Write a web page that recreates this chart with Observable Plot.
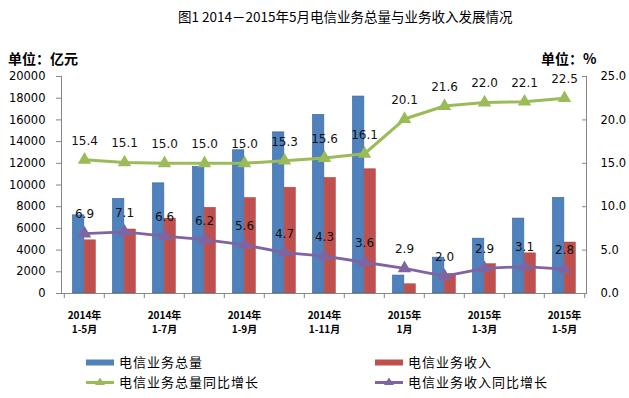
<!DOCTYPE html>
<html><head><meta charset="utf-8">
<script src="https://cdn.jsdelivr.net/npm/d3@7"></script>
<script src="https://cdn.jsdelivr.net/npm/@observablehq/plot@0.6"></script>
<style>
body{margin:0;background:#fff;}
#wrap{position:relative;width:629px;height:398px;overflow:hidden;font-family:"Noto Sans CJK SC",sans-serif;}
#chart{position:absolute;left:0;top:0;}
.abs{position:absolute;white-space:nowrap;color:#000;}
.leg{position:absolute;display:flex;align-items:center;font-size:13px;letter-spacing:1px;line-height:16px;}
.leg svg{margin-right:5px;}
</style></head>
<body><div id="wrap">
<div id="chart"></div>
<div class="abs" style="left:178px;top:6px;font-size:13.5px;">图1 2014－2015年5月电信业务总量与业务收入发展情况</div>
<div class="abs" style="left:8px;top:48px;font-size:14px;font-weight:bold;">单位：亿元</div>
<div class="abs" style="left:541px;top:48px;font-size:14px;font-weight:bold;">单位：%</div>
<div id="legend"></div>
</div>
<script>
const categories = ["2014年1-5月","2014年1-6月","2014年1-7月","2014年1-8月","2014年1-9月","2014年1-10月","2014年1-11月","2014年1-12月","2015年1月","2015年1-2月","2015年1-3月","2015年1-4月","2015年1-5月"];
const tickLabels = ["2014年\n1-5月","","2014年\n1-7月","","2014年\n1-9月","","2014年\n1-11月","","2015年\n1月","","2015年\n1-3月","","2015年\n1-5月"];
const volume = [7200, 8700, 10150, 11650, 13200, 14850, 16450, 18150, 1650, 3300, 5050, 6900, 8800];
const revenue = [4900, 5900, 6900, 7900, 8800, 9750, 10650, 11450, 850, 1800, 2700, 3700, 4700];
const volumeGrowth = [15.4, 15.1, 15.0, 15.0, 15.0, 15.3, 15.6, 16.1, 20.1, 21.6, 22.0, 22.1, 22.5];
const revenueGrowth = [6.9, 7.1, 6.6, 6.2, 5.6, 4.7, 4.3, 3.6, 2.9, 2.0, 2.9, 3.1, 2.8];
const leftTicks = [0,2000,4000,6000,8000,10000,12000,14000,16000,18000,20000];
const rightTicks = [0,5,10,15,20,25];
const seriesNames = ["电信业务总量","电信业务收入","电信业务总量同比增长","电信业务收入同比增长"];
const colors = {vol:"#4F81BD", rev:"#C0504D", volG:"#9BBB59", revG:"#8064A2"};

const pctScale = 20000 / 25; // right axis 0–25% mapped onto left 0–20000
const data = categories.map((c,i)=>({cat:c, vol:volume[i], rev:revenue[i], volG:volumeGrowth[i], revG:revenueGrowth[i], label:tickLabels[i]}));

const W = 629, H = 398, mL = 61, mR = 43, mT = 76, mB = 105;
const bw = (W - mL - mR) / categories.length;
const barW = 11.6;
const tickFont = "DejaVu Sans, sans-serif";

const chart = Plot.plot({
  width: W, height: H, marginTop: mT, marginBottom: mB, marginLeft: mL, marginRight: mR,
  style: {background: "transparent", fontFamily: tickFont},
  x: {type: "band", domain: categories, padding: 0, axis: null, label: null},
  y: {domain: [0, 20000], axis: null, label: null},
  marks: [
    Plot.barY(data, {x: "cat", y: "vol", fill: colors.vol, stroke: "#3A679E", strokeWidth: 0.7, insetLeft: bw/2 - barW, insetRight: bw/2}),
    Plot.barY(data, {x: "cat", y: "rev", fill: colors.rev, stroke: "#A8423F", strokeWidth: 0.5, insetLeft: bw/2, insetRight: bw/2 - barW}),
    Plot.ruleY([0], {stroke: "#868686"}),
    Plot.frame({anchor: "left", stroke: "#868686"}),
    Plot.frame({anchor: "right", stroke: "#868686"}),
    Plot.axisY({anchor: "left", label: null, ticks: leftTicks, tickFormat: d => String(d), tickSize: 5, tickPadding: 11, stroke: "#868686", fill: "#000", fontSize: 11.5, fontFamily: tickFont}),
    Plot.axisY({anchor: "right", label: null, ticks: rightTicks.map(v => v * pctScale), tickFormat: d => (d / pctScale).toFixed(1), tickSize: -5, tickPadding: 19, stroke: "#868686", fill: "#000", fontSize: 11.5, fontFamily: tickFont}),
    Plot.axisX({label: null, ticks: categories, tickSize: 5, tickFormat: () => "", dx: -bw/2, stroke: "#868686"}),
    Plot.axisX({label: null, ticks: categories.slice(-1), tickSize: 5, tickFormat: () => "", dx: bw/2, stroke: "#868686"}),
    Plot.axisX({label: null, ticks: categories, tickSize: 0, tickPadding: 16, tickFormat: d => tickLabels[categories.indexOf(d)], fontSize: 10, fontWeight: "bold", lineHeight: 1.4, fill: "#000", fontFamily: "Noto Sans CJK SC, sans-serif"}),
    Plot.line(data, {x: "cat", y: d => d.volG * pctScale, stroke: colors.volG, strokeWidth: 3}),
    Plot.dot(data, {x: "cat", y: d => d.volG * pctScale, symbol: "triangle", r: 5, fill: colors.volG, stroke: null}),
    Plot.line(data, {x: "cat", y: d => d.revG * pctScale, stroke: colors.revG, strokeWidth: 2.8}),
    Plot.dot(data, {x: "cat", y: d => d.revG * pctScale, symbol: "triangle", r: 5, fill: colors.revG, stroke: null}),
    Plot.text(data, {x: "cat", y: d => d.volG * pctScale, text: d => d.volG.toFixed(1), dy: -19, fontSize: 12, fill: "#111", fontFamily: tickFont}),
    Plot.text(data, {x: "cat", y: d => d.revG * pctScale, text: d => d.revG.toFixed(1), dy: -19, fontSize: 12, fill: "#111", fontFamily: tickFont})
  ]
});
document.getElementById("chart").appendChild(chart);

// legend
const legendItems = [
  {name: seriesNames[0], color: colors.vol, type: "bar", x: 86, y: 354},
  {name: seriesNames[1], color: colors.rev, type: "bar", x: 375, y: 354},
  {name: seriesNames[2], color: colors.volG, type: "line", x: 86, y: 374},
  {name: seriesNames[3], color: colors.revG, type: "line", x: 375, y: 374}
];
const leg = document.getElementById("legend");
for (const it of legendItems) {
  const div = document.createElement("div");
  div.className = "leg";
  div.style.left = it.x + "px";
  div.style.top = it.y + "px";
  const sw = it.type === "bar"
    ? `<svg width="28" height="16"><rect x="0" y="5.5" width="28" height="6" fill="${it.color}"/></svg>`
    : `<svg width="28" height="16"><line x1="0" x2="28" y1="8.5" y2="8.5" stroke="${it.color}" stroke-width="3"/><path d="M14,3.5 L19,11 L9,11 Z" fill="${it.color}"/></svg>`;
  div.innerHTML = sw + `<span>${it.name}</span>`;
  leg.appendChild(div);
}
</script>
</body></html>
